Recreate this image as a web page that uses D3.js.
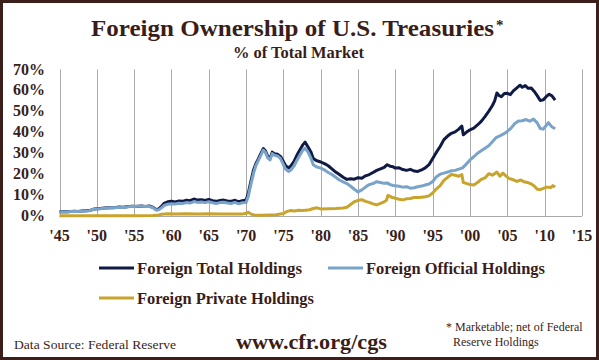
<!DOCTYPE html>
<html>
<head>
<meta charset="utf-8">
<script src="https://cdn.jsdelivr.net/npm/d3@7/dist/d3.min.js"></script>
<style>
  html, body { margin: 0; padding: 0; background: #fff; }
  svg { display: block; }
  text { font-family: "Liberation Serif", "DejaVu Serif", serif; fill: #3a1d18; }
</style>
</head>
<body>
<svg id="chart" width="599" height="360"></svg>
<script>
// ---- Data ----
const xTickYears = [1945,1950,1955,1960,1965,1970,1975,1980,1985,1990,1995,2000,2005,2010,2015];
const yTicks = [0,10,20,30,40,50,60,70];
const seriesNames = ["Foreign Total Holdings", "Foreign Official Holdings", "Foreign Private Holdings"];

const totalData = [
[1945.0,2.0],[1945.5,2.1],[1946.0,2.0],[1946.5,2.2],[1947.0,2.3],[1947.5,2.2],[1948.0,2.4],[1948.5,2.5],[1949.0,2.6],[1949.5,3.2],
[1950.0,3.5],[1950.5,3.6],[1951.0,3.8],[1951.5,3.9],[1952.0,4.0],[1952.5,4.1],[1953.0,4.3],[1953.5,4.2],[1954.0,4.4],[1954.5,4.6],
[1955.0,4.6],[1955.5,4.7],[1956.0,4.8],[1956.5,4.6],[1957.0,4.8],[1957.5,4.2],[1958.0,3.0],[1958.3,3.4],[1958.7,4.8],[1959.0,6.0],
[1959.5,6.8],[1960.0,7.0],[1960.5,6.7],[1961.0,7.2],[1961.5,7.0],[1962.0,7.5],[1962.5,7.3],[1963.0,8.1],[1963.5,7.6],[1964.0,7.8],
[1964.5,7.4],[1965.0,7.9],[1965.5,7.3],[1966.0,7.0],[1966.5,7.4],[1967.0,7.6],[1967.5,7.2],[1968.0,7.0],[1968.5,7.5],[1969.0,6.8],
[1969.5,7.3],[1970.0,7.6],[1970.3,11],[1970.6,16],[1971.0,22],[1971.3,25],[1971.6,27],[1972.0,30],[1972.3,32.2],[1972.6,31],
[1972.9,28.5],[1973.2,27.5],[1973.5,30.5],[1973.8,29.8],[1974.2,29.5],[1974.6,28.5],[1975.0,26],[1975.3,24],[1975.7,23],[1976.0,24],
[1976.4,26],[1976.8,29],[1977.2,31.5],[1977.6,34],[1977.9,35.3],[1978.3,33],[1978.7,30.5],[1979.0,27.5],[1979.4,26.5],[1980.0,25.8],
[1980.5,25],[1981.0,24],[1981.5,22.5],[1982.0,21],[1982.5,19.8],[1983.0,18.5],[1983.5,17.5],[1984.0,17.8],[1984.5,17.6],[1985.0,18.3],
[1985.5,18.0],[1986.0,19.2],[1986.5,19.8],[1987.0,20.8],[1987.5,21.8],[1988.0,22.5],[1988.5,23.2],[1988.9,24.5],[1989.3,23.8],[1989.7,23.5],
[1990.0,22.9],[1990.5,23.0],[1991.0,22.2],[1991.5,21.8],[1992.0,22.3],[1992.5,21.5],[1993.0,21.3],[1993.5,22.0],[1994.0,23.0],[1994.5,24.5],
[1995.0,27.5],[1995.5,30.5],[1996.0,33.2],[1996.5,36.5],[1997.0,38.2],[1997.5,39.5],[1998.0,40.2],[1998.5,41.5],[1998.9,43.0],[1999.1,38.8],
[1999.5,40.0],[2000.0,41.2],[2000.5,42.0],[2001.0,43.5],[2001.5,45.2],[2002.0,47.5],[2002.5,50.0],[2003.0,52.8],[2003.3,55],[2003.6,58.8],
[2003.9,57.5],[2004.2,57.0],[2004.6,58.5],[2005.0,58.6],[2005.4,58.0],[2005.8,59.8],[2006.2,61.0],[2006.7,62.5],[2007.0,61.5],[2007.4,62.3],
[2007.8,61.0],[2008.2,61.2],[2008.6,59.5],[2009.0,57.5],[2009.4,55.2],[2009.8,55.5],[2010.2,57.0],[2010.6,58.2],[2011.0,57.3],[2011.4,55.4]
];

const officialData = [
[1945.0,1.9],[1945.5,2.0],[1946.0,1.9],[1946.5,2.1],[1947.0,2.2],[1947.5,2.1],[1948.0,2.3],[1948.5,2.4],[1949.0,2.5],[1949.5,3.1],
[1950.0,3.4],[1950.5,3.5],[1951.0,3.7],[1951.5,3.8],[1952.0,3.9],[1952.5,4.0],[1953.0,4.2],[1953.5,4.1],[1954.0,4.3],[1954.5,4.5],
[1955.0,4.5],[1955.5,4.6],[1956.0,4.7],[1956.5,4.5],[1957.0,4.6],[1957.5,4.0],[1958.0,2.8],[1958.3,3.0],[1958.7,4.0],[1959.0,5.0],
[1959.5,5.6],[1960.0,5.9],[1960.5,5.7],[1961.0,6.1],[1961.5,6.0],[1962.0,6.4],[1962.5,6.2],[1963.0,6.9],[1963.5,6.5],[1964.0,6.7],
[1964.5,6.4],[1965.0,6.8],[1965.5,6.3],[1966.0,6.0],[1966.5,6.4],[1967.0,6.6],[1967.5,6.2],[1968.0,6.0],[1968.5,6.5],[1969.0,5.8],
[1969.5,6.3],[1970.0,6.5],[1970.3,9.5],[1970.6,14.5],[1971.0,20.5],[1971.3,24],[1971.6,26.2],[1972.0,29.2],[1972.3,31.5],[1972.6,30.3],
[1972.9,27.8],[1973.2,26.8],[1973.5,29.8],[1973.8,29.0],[1974.2,28.7],[1974.6,27.5],[1975.0,24.5],[1975.3,22.3],[1975.7,21.3],[1976.0,22],
[1976.4,23.8],[1976.8,26.5],[1977.2,29],[1977.6,31.5],[1977.9,32.4],[1978.3,30.5],[1978.7,27.5],[1979.0,24.5],[1979.4,23.5],[1980.0,22.9],
[1980.5,22.0],[1981.0,20.8],[1981.5,19.8],[1982.0,18.5],[1982.5,17.2],[1983.0,16.3],[1983.5,15.5],[1984.0,14.2],[1984.5,12.8],[1985.0,11.5],
[1985.5,12.5],[1986.0,13.8],[1986.5,15.0],[1987.0,15.5],[1987.5,16.4],[1988.0,16.0],[1988.5,15.6],[1988.9,15.8],[1989.3,15.0],[1989.7,14.6],
[1990.0,14.5],[1990.5,14.2],[1991.0,13.8],[1991.5,14.0],[1992.0,13.3],[1992.5,13.5],[1993.0,14.0],[1993.5,14.3],[1994.0,14.8],[1994.5,15.3],
[1995.0,16.5],[1995.5,18.8],[1996.0,20.0],[1996.5,20.5],[1997.0,21.0],[1997.5,21.6],[1998.0,21.8],[1998.5,22.4],[1999.0,23.0],[1999.5,24.8],
[2000.0,26.8],[2000.5,28.3],[2001.0,30.0],[2001.5,31.2],[2002.0,32.4],[2002.5,33.6],[2003.0,35.5],[2003.5,37.5],[2004.0,38.3],[2004.5,39.2],
[2005.0,40.4],[2005.5,42.0],[2006.0,44.2],[2006.5,45.4],[2007.0,45.5],[2007.5,46.1],[2008.0,45.3],[2008.5,46.3],[2009.0,44.5],[2009.4,41.8],
[2009.8,41.5],[2010.2,43.2],[2010.5,44.6],[2010.9,42.8],[2011.4,41.7]
];

const privateData = [
[1945.0,0.1],[1950.0,0.1],[1955.0,0.1],[1957.5,0.2],[1958.0,0.3],[1958.7,0.8],[1959.5,1.1],[1960.5,1.0],[1962.0,1.1],[1963.5,1.0],
[1965.0,1.1],[1966.5,0.9],[1968.0,1.0],[1969.5,0.9],[1970.0,1.3],[1970.3,1.8],[1970.6,1.0],[1971.0,0.5],[1972.0,0.4],[1973.0,0.5],
[1974.0,0.6],[1975.0,1.2],[1975.5,2.2],[1976.0,2.6],[1976.5,2.4],[1977.0,2.7],[1977.5,2.6],[1978.0,2.8],[1978.5,3.0],[1979.0,3.6],
[1979.5,3.9],[1980.0,3.4],[1981.0,3.5],[1982.0,3.6],[1983.0,3.8],[1983.5,4.2],[1984.0,5.5],[1984.5,6.8],[1985.0,7.5],[1985.5,7.8],
[1986.0,7.0],[1986.5,6.5],[1987.0,5.8],[1987.5,5.3],[1988.0,6.0],[1988.5,6.8],[1988.8,7.5],[1989.0,9.8],[1989.3,9.4],[1989.6,8.8],
[1990.0,8.5],[1990.5,8.0],[1991.0,7.7],[1991.5,8.2],[1992.0,8.4],[1992.5,8.8],[1993.0,8.8],[1993.5,9.0],[1994.0,9.2],[1994.5,9.6],
[1995.0,11.0],[1995.5,13.0],[1996.0,14.5],[1996.5,17.0],[1997.0,18.5],[1997.5,19.8],[1998.0,19.5],[1998.5,19.0],[1998.9,19.8],[1999.1,16.0],
[1999.5,15.6],[2000.0,15.0],[2000.5,14.8],[2001.0,16.0],[2001.5,17.5],[2002.0,18.2],[2002.5,20.2],[2003.0,19.5],[2003.6,21.0],[2004.0,19.0],
[2004.4,20.5],[2004.8,19.2],[2005.2,18.0],[2005.8,17.3],[2006.3,16.5],[2006.8,17.2],[2007.2,16.4],[2007.7,16.0],[2008.1,15.5],[2008.6,14.3],
[2009.0,12.8],[2009.4,12.6],[2009.9,13.3],[2010.3,13.8],[2010.8,13.6],[2011.1,14.5],[2011.4,13.8]
];

// ---- Drawing ----
const svg = d3.select("#chart");
const W = 599, H = 360;
const colors = ["#0f1b45", "#7aa3c9", "#c9a42c"];

svg.append("rect").attr("x",0).attr("y",0).attr("width",W).attr("height",H).attr("fill","#fff");

const x = d3.scaleLinear().domain([1945, 2015]).range([59.5, 582]);
const y = d3.scaleLinear().domain([0, 70]).range([216, 69.5]);

// vertical gridlines
svg.append("g").selectAll("line").data(xTickYears).join("line")
  .attr("x1", d => Math.round(x(d)) + 0.5).attr("x2", d => Math.round(x(d)) + 0.5)
  .attr("y1", y(70)).attr("y2", y(0))
  .attr("stroke", "#a9a9a9").attr("stroke-width", 1);

// x axis line
svg.append("line").attr("x1", x(1945)).attr("x2", x(2015))
  .attr("y1", y(0) + 0.5).attr("y2", y(0) + 0.5)
  .attr("stroke", "#a9a9a9").attr("stroke-width", 1);

// y labels
svg.append("g").selectAll("text").data(yTicks).join("text")
  .attr("x", 45).attr("y", d => y(d) + 5)
  .attr("text-anchor", "end")
  .attr("font-size", 16).attr("font-weight", "bold")
  .text(d => d + "%");

// x labels
svg.append("g").selectAll("text").data(xTickYears).join("text")
  .attr("x", d => x(d)).attr("y", 241)
  .attr("text-anchor", "middle")
  .attr("font-size", 16).attr("font-weight", "bold")
  .text(d => "'" + String(d).slice(2));

// lines
const line = d3.line().x(d => x(d[0])).y(d => y(d[1]));
[totalData, officialData, privateData].forEach((data, i) => {
  svg.append("path").datum(data)
    .attr("d", line)
    .attr("fill", "none")
    .attr("stroke", colors[i])
    .attr("stroke-width", 3)
    .attr("stroke-linejoin", "round");
});

// title
svg.append("text").attr("x", 91).attr("y", 36)
  .attr("font-size", 24).attr("font-weight", "bold")
  .attr("textLength", 403).attr("lengthAdjust", "spacingAndGlyphs")
  .text("Foreign Ownership of U.S. Treasuries");
svg.append("text").attr("x", 496).attr("y", 30)
  .attr("font-size", 15).attr("font-weight", "bold")
  .text("*");

svg.append("text").attr("x", 233).attr("y", 58)
  .attr("font-size", 16).attr("font-weight", "bold")
  .attr("textLength", 131).attr("lengthAdjust", "spacingAndGlyphs")
  .text("% of Total Market");

// legend
const legendItems = [
  {name: seriesNames[0], color: colors[0], lx: 99, ly: 268, w: 165},
  {name: seriesNames[1], color: colors[1], lx: 328, ly: 268, w: 179},
  {name: seriesNames[2], color: colors[2], lx: 99, ly: 298, w: 177}
];
const lg = svg.append("g").selectAll("g").data(legendItems).join("g");
lg.append("line")
  .attr("x1", d => d.lx).attr("x2", d => d.lx + 35)
  .attr("y1", d => d.ly).attr("y2", d => d.ly)
  .attr("stroke", d => d.color).attr("stroke-width", 3);
lg.append("text")
  .attr("x", d => d.lx + 38).attr("y", d => d.ly + 5.5)
  .attr("font-size", 16).attr("font-weight", "bold")
  .attr("textLength", d => d.w).attr("lengthAdjust", "spacingAndGlyphs")
  .text(d => d.name);

// footer
svg.append("text").attr("x", 14).attr("y", 349).attr("font-size", 13)
  .attr("textLength", 162).attr("lengthAdjust", "spacingAndGlyphs")
  .text("Data Source: Federal Reserve");
svg.append("text").attr("x", 236).attr("y", 349).attr("font-size", 22).attr("font-weight", "bold")
  .attr("textLength", 151).attr("lengthAdjust", "spacingAndGlyphs")
  .text("www.cfr.org/cgs");
svg.append("text").attr("x", 446).attr("y", 331).attr("font-size", 12)
  .text("* Marketable; net of Federal");
svg.append("text").attr("x", 453).attr("y", 346).attr("font-size", 12)
  .text("Reserve Holdings");

// frame
svg.append("rect").attr("x", 1.5).attr("y", 1.5).attr("width", W - 3).attr("height", H - 3)
  .attr("fill", "none").attr("stroke", "#3c1f1a").attr("stroke-width", 3);
</script>
</body>
</html>
